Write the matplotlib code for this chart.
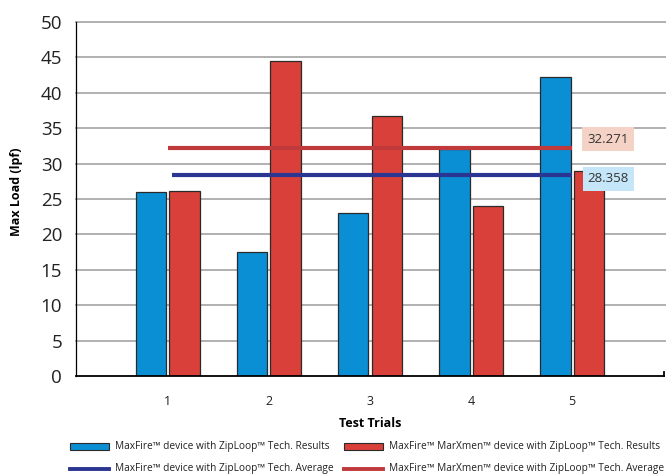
import matplotlib
matplotlib.use("Agg")
import matplotlib.pyplot as plt
import numpy as np
from matplotlib.patches import Rectangle
from matplotlib.lines import Line2D

trials = ["1", "2", "3", "4", "5"]
maxfire_results = [26.0, 17.5, 23.0, 32.0, 42.2]
marxmen_results = [26.2, 44.5, 36.7, 24.0, 29.0]
maxfire_avg = 28.358
marxmen_avg = 32.271
yticks = [0, 5, 10, 15, 20, 25, 30, 35, 40, 45, 50]

series_labels = [
    "MaxFire\u2122 device with ZipLoop\u2122 Tech. Results",
    "MaxFire\u2122 MarXmen\u2122 device with ZipLoop\u2122 Tech. Results",
    "MaxFire\u2122 device with ZipLoop\u2122 Tech. Average",
    "MaxFire\u2122 MarXmen\u2122 device with ZipLoop\u2122 Tech. Average",
]

BLUE = "#0A8FD4"
RED = "#D9403A"
BLUE_LINE = "#2B3592"
RED_LINE = "#C0393B"
FONT = "Open Sans"

plt.rcParams["font.family"] = [FONT, "DejaVu Sans"]

W, H = 666, 475
fig = plt.figure(figsize=(W / 100, H / 100), dpi=100)
ax = fig.add_axes([76 / W, 1 - 376 / H, 588 / W, 354 / H])

x = np.arange(1, len(trials) + 1)
bw = 0.30
ax.bar(x - 0.165, maxfire_results, bw, color=BLUE, edgecolor="#2a2a2a", linewidth=0.9, zorder=3)
ax.bar(x + 0.165, marxmen_results, bw, color=RED, edgecolor="#2a2a2a", linewidth=0.9, zorder=3)

ax.hlines(marxmen_avg, 1.0, 5.0, color=RED_LINE, linewidth=3.0, zorder=4)
ax.hlines(maxfire_avg, 1.04, 5.0, color=BLUE_LINE, linewidth=3.0, zorder=4)

ax.text(5.36, marxmen_avg + 1.2, f"{marxmen_avg:.3f}", fontsize=9.5, color="#333333",
        ha="center", va="center", zorder=5,
        bbox=dict(boxstyle="square,pad=0.4", facecolor="#F5D2C6", edgecolor="none"))
ax.text(5.36, maxfire_avg - 0.5, f"{maxfire_avg:.3f}", fontsize=9.5, color="#333333",
        ha="center", va="center", zorder=5,
        bbox=dict(boxstyle="square,pad=0.4", facecolor="#C4E6F8", edgecolor="none"))

ax.set_xlim(0.09, 5.91)
ax.set_ylim(0, 50)
ax.set_yticks(yticks)
ax.set_yticklabels([str(v) for v in yticks], fontsize=13.5, color="#222222")
ax.set_xticks(x)
ax.set_xticklabels(trials, fontsize=9, color="#222222")
ax.tick_params(axis="y", length=0, pad=10)
ax.tick_params(axis="x", length=0, pad=14)

for v in yticks[1:]:
    ax.plot([0, 1.05], [v, v], transform=ax.get_yaxis_transform(), color="#AAAAAA",
            linewidth=1.3, zorder=1, clip_on=False)

for s in ["top", "right"]:
    ax.spines[s].set_visible(False)
ax.spines["left"].set_linewidth(0.9)
ax.spines["bottom"].set_linewidth(1.3)
ax.spines["bottom"].set_zorder(5)
ax.plot([1, 1], [0, 0.012], transform=ax.transAxes, color="black", linewidth=1.3, clip_on=False)

ax.set_ylabel("Max Load (lpf)", fontsize=9, fontweight="bold")
ax.yaxis.set_label_coords(-0.090, 0.52)
ax.set_xlabel("Test Trials", fontsize=9, fontweight="bold", labelpad=6)

# legend (manual placement in pixels)
def fx(px):
    return px / W

def fy(py):
    return 1 - py / H

legend_items = [
    ("patch", BLUE, 70, 446.5, series_labels[0]),
    ("patch", RED, 344, 446.5, series_labels[1]),
    ("line", BLUE_LINE, 70, 468.5, series_labels[2]),
    ("line", RED_LINE, 344, 468.5, series_labels[3]),
]
for kind, col, px, py, lab in legend_items:
    if kind == "patch":
        fig.add_artist(Rectangle((fx(px), fy(py + 3.5)), 39 / W, 7 / H, transform=fig.transFigure,
                                 facecolor=col, edgecolor="#2a2a2a", linewidth=0.8))
    else:
        fig.add_artist(Line2D([fx(px), fx(px + 39)], [fy(py), fy(py)], transform=fig.transFigure,
                              color=col, linewidth=2.8))
    fig.text(fx(px + 45), fy(py - 0.5), lab, fontsize=7.3, color="#222222", va="center", ha="left")

fig.savefig("out.png", dpi=100)
